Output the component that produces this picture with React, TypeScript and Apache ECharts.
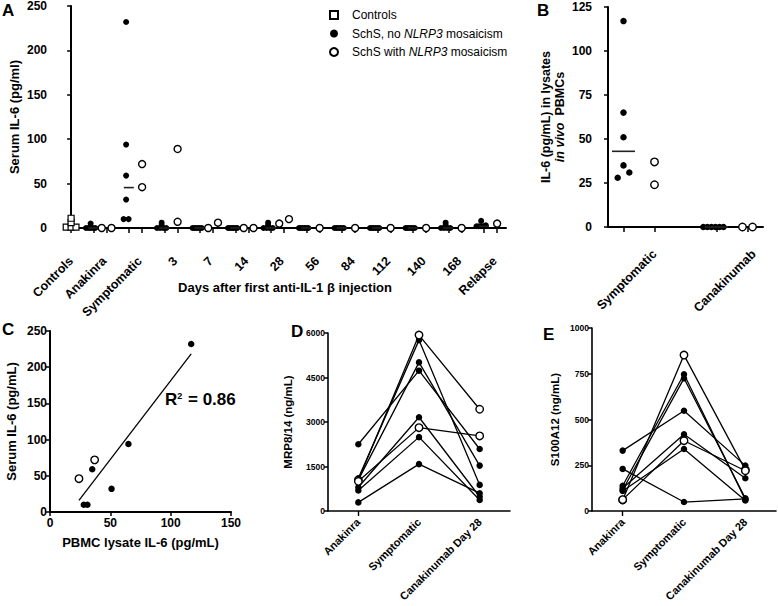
import React, { useEffect, useRef } from 'react';
import * as echarts from 'echarts';

const FONT = '"Liberation Sans", Arial, Helvetica, sans-serif';
const BLACK = '#000';
const ROT45 = Math.PI / 4 + 2 * Math.PI;

// ---------- Panel A : serum IL-6 over time ----------
const aGroupLabels = ['Controls', 'Anakinra', 'Symptomatic', '3', '7', '14', '28', '56', '84', '112', '140', '168', 'Relapse'];
const aControls = [11, 6, 1, 1, 1];
const aFilledAnakinra = [0, 0, 0, 0, 0, 5];
const aFilledSymptomatic = [232, 94, 59, 32, 10, 10];
const aFilledDay3 = [0, 0, 0, 0, 3, 6];
const aFilledDay7 = [0, 0, 0, 0, 0, 0];
const aFilledDay14 = [0, 0, 0, 0, 0, 0];
const aFilledDay28 = [0, 0, 0, 0, 3, 6];
const aFilledDay56 = [0, 0, 0, 0, 0, 0];
const aFilledDay84 = [0, 0, 0, 0, 0, 0];
const aFilledDay112 = [0, 0, 0, 0, 0, 0];
const aFilledDay140 = [0, 0, 0, 0, 0, 0];
const aFilledDay168 = [0, 0, 0, 0, 3, 6];
const aFilledRelapse = [2, 2, 2, 2, 3, 8];
const aOpenAnakinra = [0, 0];
const aOpenSymptomatic = [72, 46];
const aOpenDay3 = [89, 7];
const aOpenDay7 = [0, 6];
const aOpenDay14 = [0, 0];
const aOpenDay28 = [5, 10];
const aOpenDay56 = [0];
const aOpenDay84 = [0];
const aOpenDay112 = [0];
const aOpenDay140 = [0];
const aOpenDay168 = [0];
const aOpenRelapse = [5];

const aFilled = [aFilledAnakinra, aFilledSymptomatic, aFilledDay3, aFilledDay7, aFilledDay14, aFilledDay28,
  aFilledDay56, aFilledDay84, aFilledDay112, aFilledDay140, aFilledDay168, aFilledRelapse];
const aOpen = [aOpenAnakinra, aOpenSymptomatic, aOpenDay3, aOpenDay7, aOpenDay14, aOpenDay28,
  aOpenDay56, aOpenDay84, aOpenDay112, aOpenDay140, aOpenDay168, aOpenRelapse];

// ---------- Panel B : IL-6 in PBMC lysates ----------
const bLabels = ['Symptomatic', 'Canakinumab'];
const bSymptomaticFilled = [117, 65, 51, 35, 31, 28];
const bSymptomaticOpen = [37, 24];
const bCanakinumabFilled = [0, 0, 0, 0, 0, 0];
const bCanakinumabOpen = [0, 0];

// ---------- Panel C : serum vs lysate ----------
const cLysateFilled = [117, 65, 51, 35, 31, 28];
const cSerumFilled = [232, 94, 32, 59, 10, 10];
const cLysateOpen = [37, 24];
const cSerumOpen = [72, 46];

// ---------- Panel D : MRP8/14 ----------
const deCategories = ['Anakinra', 'Symptomatic', 'Canakinumab Day 28'];
const mrpAnakinra = [2250, 1100, 1050, 800, 690, 290, 1045, 1000];
const mrpSymptomatic = [4730, 5760, 5010, 3160, 2490, 1580, 5930, 2810];
const mrpCanakinumab = [2090, 880, 1530, 480, 370, 600, 3430, 2530];
const mrpMosaic = [false, false, false, false, false, false, true, true];

// ---------- Panel E : S100A12 ----------
const s100Anakinra = [330, 230, 138, 115, 124, 109, 60, 62];
const s100Symptomatic = [548, 49, 747, 725, 419, 339, 852, 384];
const s100Canakinumab = [248, 66, 62, 70, 179, 58, 225, 220];
const s100Mosaic = [false, false, false, false, false, false, true, true];

function swarm(values: number[], center: number, tol: number, step: number, maxW: number): number[][] {
  const idx = values.map((_, i) => i).sort((a, b) => values[a] - values[b]);
  const out: number[][] = [];
  let cluster: number[] = [];
  const flush = () => {
    const n = cluster.length;
    if (!n) return;
    const s = n > 1 ? Math.min(step, maxW / (n - 1)) : 0;
    cluster.forEach((i, j) => out.push([center + (j - (n - 1) / 2) * s, values[i]]));
    cluster = [];
  };
  idx.forEach((i) => {
    if (cluster.length && values[i] - values[cluster[cluster.length - 1]] > tol) flush();
    cluster.push(i);
  });
  flush();
  return out;
}

function median(v: number[]): number {
  const s = [...v].sort((a, b) => a - b);
  const n = s.length;
  return n % 2 ? s[(n - 1) / 2] : (s[n / 2 - 1] + s[n / 2]) / 2;
}

const NAME_CTRL = 'Controls';
const NAME_FILLED = 'SchS, no NLRP3 mosaicism';
const NAME_OPEN = 'SchS with NLRP3 mosaicism';

const filledStyle = { color: BLACK, opacity: 1 };
const openStyle = { color: '#fff', borderColor: BLACK, borderWidth: 1.4, opacity: 1 };

function axisLineStyle(w: number) {
  return { show: true, lineStyle: { color: BLACK, width: w } };
}

// 45° category labels placed through the axis scale
function rotatedLabels(axisIndex: number, positions: number[], texts: string[], dy: number, fs: number) {
  return {
    type: 'custom', name: `labels ${axisIndex}`, xAxisIndex: axisIndex, yAxisIndex: axisIndex, silent: true, z: 6,
    clip: false,
    data: positions.map((p, i) => [p, 0, i]),
    renderItem: (_params: any, api: any) => {
      const pt = api.coord([api.value(0), api.value(1)]);
      const i = api.value(2);
      return {
        type: 'text', x: pt[0], y: pt[1] + dy, rotation: ROT45,
        style: { text: texts[i], font: `bold ${fs}px ${FONT}`, fill: BLACK, align: 'right', verticalAlign: 'middle' },
      };
    },
  };
}

function buildOption() {
  const aTickValues: number[] = [0];
  const aLabelValues: number[] = [0];
  for (let k = 1; k <= 12; k++) {
    aTickValues.push(8 * k - 3, 8 * k);
    aLabelValues.push(8 * k - 0.5);
  }
  const aFilledData: number[][] = [];
  const aOpenData: number[][] = [];
  const aMedianData: number[][] = [];
  for (let k = 1; k <= 12; k++) {
    aFilledData.push(...swarm(aFilled[k - 1], 8 * k - 3 - 0.6, 1.5, 1.13, 2.1));
    aOpenData.push(...swarm(aOpen[k - 1], 8 * k, 12, 2.2, 2.2));
    aMedianData.push([8 * k - 3, median(aFilled[k - 1])]);
  }

  const bTickValues = [1, 3, 7, 9];
  const bLabelValues = [3, 9.4];
  const bFilledData = [
    ...swarm(bSymptomaticFilled, 1, 3.5, 0.75, 1.3),
    ...swarm(bCanakinumabFilled, 6.8, 3.5, 0.75, 1.3),
  ];
  const bOpenData = [
    ...swarm(bSymptomaticOpen, 3, 3.5, 0.65, 0.65),
    ...swarm(bCanakinumabOpen, 9, 3.5, 0.65, 0.65),
  ];
  const bMedianData = [[1, median(bSymptomaticFilled)], [7, median(bCanakinumabFilled)]];

  const xs = [...cLysateFilled, ...cLysateOpen];
  const ys = [...cSerumFilled, ...cSerumOpen];
  const mx = xs.reduce((a, b) => a + b, 0) / xs.length;
  const my = ys.reduce((a, b) => a + b, 0) / ys.length;
  let sxy = 0, sxx = 0;
  xs.forEach((x, i) => { sxy += (x - mx) * (ys[i] - my); sxx += (x - mx) * (x - mx); });
  const slope = sxy / sxx;
  const icpt = my - slope * mx;
  const xmin = Math.min(...xs), xmax = Math.max(...xs);
  const regLine = [[xmin, icpt + slope * xmin], [xmax, icpt + slope * xmax]];

  const tickLabel = (fs: number, margin = 4) => ({
    color: BLACK, fontWeight: 'bold' as const, fontSize: fs, fontFamily: FONT, margin,
    formatter: (v: number) => String(v),
  });
  const nameStyle = (fs: number) => ({ color: BLACK, fontWeight: 'bold' as const, fontSize: fs, fontFamily: FONT });

  const series: any[] = [
    { type: 'scatter', name: NAME_CTRL, xAxisIndex: 0, yAxisIndex: 0, symbol: 'rect', symbolSize: 6,
      itemStyle: { color: '#fff', borderColor: BLACK, borderWidth: 1.2, opacity: 1 }, data: swarm(aControls, 0, 1.5, 1.1, 3), z: 3 },
    { type: 'scatter', name: NAME_FILLED, xAxisIndex: 0, yAxisIndex: 0, symbol: 'circle', symbolSize: 6,
      itemStyle: filledStyle, data: aFilledData, z: 3 },
    { type: 'scatter', name: NAME_OPEN, xAxisIndex: 0, yAxisIndex: 0, symbol: 'circle', symbolSize: 7,
      itemStyle: openStyle, data: aOpenData, z: 4 },
    { type: 'scatter', name: 'A median', xAxisIndex: 0, yAxisIndex: 0, symbol: 'rect', symbolSize: [10, 1.6],
      itemStyle: { color: '#222', opacity: 1 }, data: aMedianData, z: 3 },
    rotatedLabels(0, aLabelValues, aGroupLabels, 31, 12.5),
    { type: 'scatter', name: NAME_FILLED, xAxisIndex: 1, yAxisIndex: 1, symbol: 'circle', symbolSize: 6.5,
      itemStyle: filledStyle, data: bFilledData, z: 3 },
    { type: 'scatter', name: NAME_OPEN, xAxisIndex: 1, yAxisIndex: 1, symbol: 'circle', symbolSize: 7.5,
      itemStyle: openStyle, data: bOpenData, z: 4 },
    { type: 'scatter', name: 'B median', xAxisIndex: 1, yAxisIndex: 1, symbol: 'rect', symbolSize: [23, 1.6],
      itemStyle: { color: '#222', opacity: 1 }, data: bMedianData, z: 3 },
    rotatedLabels(1, bLabelValues, bLabels, 25, 12.5),
    { type: 'line', name: 'C regression', xAxisIndex: 2, yAxisIndex: 2, data: regLine, symbol: 'none',
      lineStyle: { color: BLACK, width: 1.3 }, z: 2 },
    { type: 'scatter', name: NAME_FILLED, xAxisIndex: 2, yAxisIndex: 2, symbol: 'circle', symbolSize: 6.5,
      itemStyle: filledStyle, data: cLysateFilled.map((x, i) => [x, cSerumFilled[i]]), z: 3 },
    { type: 'scatter', name: NAME_OPEN, xAxisIndex: 2, yAxisIndex: 2, symbol: 'circle', symbolSize: 7.5,
      itemStyle: openStyle, data: cLysateOpen.map((x, i) => [x, cSerumOpen[i]]), z: 4 },
    rotatedLabels(3, deCategories.map((_, i) => i), deCategories, 9, 11),
    rotatedLabels(4, deCategories.map((_, i) => i), deCategories, 9, 11),
  ];

  const addPaired = (ax: number, a: number[], s: number[], c: number[], mosaic: boolean[], label: string) => {
    const order = a.map((_, i) => i).sort((i, j) => Number(mosaic[i]) - Number(mosaic[j]));
    order.forEach((i) => {
      series.push({
        type: 'line', name: `${label} patient ${i + 1}`, xAxisIndex: ax, yAxisIndex: ax,
        data: [a[i], s[i], c[i]], symbol: 'circle', symbolSize: mosaic[i] ? 7.5 : 6.5, showAllSymbol: true,
        itemStyle: mosaic[i] ? openStyle : filledStyle,
        lineStyle: { color: BLACK, width: 1.3 }, z: mosaic[i] ? 4 : 3,
      });
    });
  };
  addPaired(3, mrpAnakinra, mrpSymptomatic, mrpCanakinumab, mrpMosaic, 'MRP8/14');
  addPaired(4, s100Anakinra, s100Symptomatic, s100Canakinumab, s100Mosaic, 'S100A12');

  const yTick = { show: true, length: 4, lineStyle: { color: BLACK, width: 1.5 } };
  const legendText = { color: BLACK, fontSize: 12, fontFamily: FONT, lineHeight: 14 };

  return {
    animation: false,
    backgroundColor: '#fff',
    textStyle: { fontFamily: FONT },
    grid: [
      { left: 63, top: 6, width: 443, height: 222 },
      { left: 608, top: 7, width: 155, height: 220 },
      { left: 50, top: 331, width: 181, height: 181 },
      { left: 328, top: 333, width: 182, height: 178 },
      { left: 592, top: 328, width: 184, height: 183 },
    ],
    legend: {
      data: [NAME_CTRL, NAME_FILLED, NAME_OPEN],
      orient: 'vertical', left: 324, top: 3, itemWidth: 8, itemHeight: 8, itemGap: 4.5,
      selectedMode: false,
      formatter: (n: string) => '{g| }' + n.replace('NLRP3', '{i|NLRP3}'),
      textStyle: { ...legendText,
        rich: { g: { ...legendText, width: 9 }, i: { ...legendText, fontStyle: 'italic' } } },
    },
    xAxis: [
      { type: 'value', gridIndex: 0, min: -1.6, max: 98, offset: 15, splitLine: { show: false },
        axisLine: axisLineStyle(2),
        axisTick: { show: true, length: 5, customValues: aTickValues, lineStyle: { color: BLACK, width: 1.5 } },
        axisLabel: { show: false },
        name: 'Days after first anti-IL-1 \u03b2 injection', nameLocation: 'middle', nameGap: 38, nameMoveOverlap: false,
        nameTextStyle: nameStyle(13) },
      { type: 'value', gridIndex: 1, min: 0, max: 10, offset: 12, splitLine: { show: false },
        axisLine: axisLineStyle(2),
        axisTick: { show: true, length: 5, customValues: bTickValues, lineStyle: { color: BLACK, width: 1.5 } },
        axisLabel: { show: false } },
      { type: 'value', gridIndex: 2, min: 0, max: 150, interval: 50, splitLine: { show: false },
        axisLine: axisLineStyle(2), axisTick: { show: true, length: 4, lineStyle: { color: BLACK, width: 1.5 } },
        axisLabel: tickLabel(12, 5),
        name: 'PBMC lysate IL-6 (pg/mL)', nameLocation: 'middle', nameGap: 24, nameMoveOverlap: false,
        nameTextStyle: nameStyle(13) },
      { type: 'category', gridIndex: 3, data: deCategories, boundaryGap: true,
        axisLine: axisLineStyle(1.6),
        axisTick: { show: true, alignWithLabel: true, length: 5, lineStyle: { color: BLACK, width: 1.4 } },
        axisLabel: { show: false } },
      { type: 'category', gridIndex: 4, data: deCategories, boundaryGap: true,
        axisLine: axisLineStyle(1.6),
        axisTick: { show: true, alignWithLabel: true, length: 5, lineStyle: { color: BLACK, width: 1.4 } },
        axisLabel: { show: false } },
    ],
    yAxis: [
      { type: 'value', gridIndex: 0, min: 0, max: 250, interval: 50, offset: 14, splitLine: { show: false },
        axisLine: axisLineStyle(2), axisTick: yTick, axisLabel: tickLabel(12, 3),
        name: 'Serum IL-6 (pg/ml)', nameLocation: 'middle', nameGap: 29, nameMoveOverlap: false,
        nameTextStyle: nameStyle(13) },
      { type: 'value', gridIndex: 1, min: 0, max: 125, interval: 25, offset: 13, splitLine: { show: false },
        axisLine: axisLineStyle(2), axisTick: yTick, axisLabel: tickLabel(12, 3),
        name: '{a|IL-6 (pg/mL) in lysates}\n{i|in vivo}{a|  PBMCs}', nameLocation: 'middle', nameGap: 28,
        nameMoveOverlap: false,
        nameTextStyle: { ...nameStyle(12.5), lineHeight: 14,
          rich: { a: { ...nameStyle(12.5), lineHeight: 14 }, i: { ...nameStyle(12.5), fontStyle: 'italic', lineHeight: 14 } } } },
      { type: 'value', gridIndex: 2, min: 0, max: 250, interval: 50, splitLine: { show: false },
        axisLine: axisLineStyle(2), axisTick: yTick, axisLabel: tickLabel(12, 3),
        name: 'Serum IL-6 (pg/mL)', nameLocation: 'middle', nameGap: 32, nameMoveOverlap: false,
        nameTextStyle: nameStyle(13) },
      { type: 'value', gridIndex: 3, min: 0, max: 6000, interval: 1500, splitLine: { show: false },
        axisLine: axisLineStyle(1.6), axisTick: yTick, axisLabel: tickLabel(8.5, 3),
        name: 'MRP8/14 (ng/mL)', nameLocation: 'middle', nameGap: 34, nameMoveOverlap: false,
        nameTextStyle: nameStyle(11.5) },
      { type: 'value', gridIndex: 4, min: 0, max: 1000, interval: 250, splitLine: { show: false },
        axisLine: axisLineStyle(1.6), axisTick: yTick, axisLabel: tickLabel(8.5, 3),
        name: 'S100A12 (ng/mL)', nameLocation: 'middle', nameGap: 31, nameMoveOverlap: false,
        nameTextStyle: nameStyle(11.5) },
    ],
    graphic: [
      { type: 'text', left: 2, top: 2, style: { text: 'A', font: `bold 17px ${FONT}`, fill: BLACK } },
      { type: 'text', left: 537, top: 2, style: { text: 'B', font: `bold 17px ${FONT}`, fill: BLACK } },
      { type: 'text', left: 2, top: 321, style: { text: 'C', font: `bold 17px ${FONT}`, fill: BLACK } },
      { type: 'text', left: 291, top: 323, style: { text: 'D', font: `bold 17px ${FONT}`, fill: BLACK } },
      { type: 'text', left: 543, top: 326, style: { text: 'E', font: `bold 17px ${FONT}`, fill: BLACK } },
      { type: 'text', left: 165, top: 391, style: {
        text: '{a|R}{s|2}{a| = 0.86}',
        rich: {
          a: { font: `bold 17px ${FONT}`, fill: BLACK },
          s: { font: `bold 9px ${FONT}`, fill: BLACK, verticalAlign: 'top', padding: [0, 1, 0, 0] },
        } } },
    ],
    series,
  };
}

export default function App() {
  const ref = useRef<HTMLDivElement>(null);
  useEffect(() => {
    if (!ref.current) return;
    const chart = echarts.init(ref.current, undefined, { renderer: 'svg' });
    chart.setOption(buildOption() as any);
    return () => chart.dispose();
  }, []);
  return <div ref={ref} style={{ position: 'fixed', left: 0, top: 0, width: 778, height: 606, background: '#fff' }} />;
}
